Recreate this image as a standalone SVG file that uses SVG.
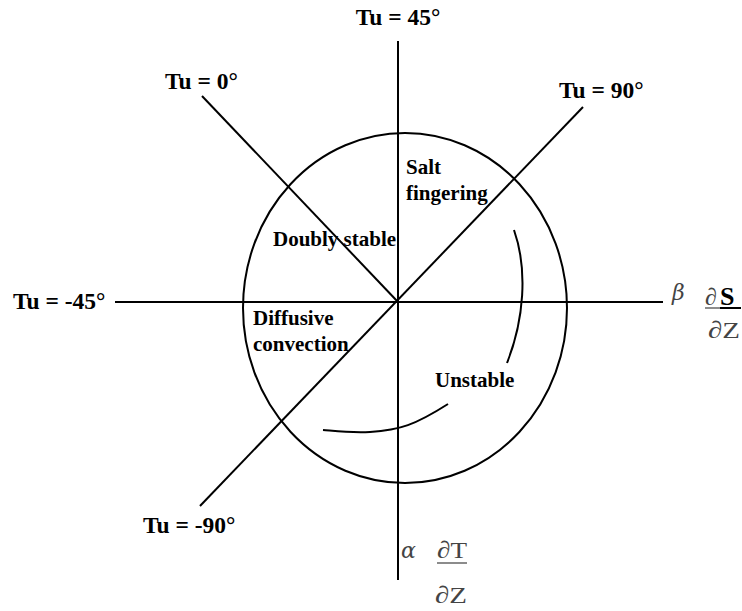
<svg xmlns="http://www.w3.org/2000/svg" width="742" height="611" viewBox="0 0 742 611">
<style>
.ln{stroke:#000;stroke-width:2;fill:none}
.tu{font-family:"Liberation Serif",serif;font-weight:bold;font-size:23.5px;fill:#000}
.rg{font-family:"Liberation Serif",serif;font-weight:bold;font-size:21px;fill:#000}
.mt{font-family:"Liberation Serif",serif;font-size:24px;fill:#444}
.gr{font-family:"DejaVu Serif",serif;font-style:italic;font-size:22px;fill:#444}
</style>
<rect width="742" height="611" fill="#fff"/>
<g id="connectors">
<line class="ln" x1="398" y1="41" x2="398" y2="580"/>
<line class="ln" x1="115" y1="302" x2="663" y2="302"/>
<line class="ln" x1="202" y1="96" x2="398" y2="302"/>
<line class="ln" x1="583" y1="107" x2="200" y2="506"/>
<path class="ln" d="M514,230 C528,270 524,320 507,363"/>
<path class="ln" d="M448,404 C415,425 400,430 370,432 C350,433 335,431 323,430"/>
</g>
<g id="circle"><ellipse class="ln" cx="405" cy="308" rx="162" ry="175"/></g>
<g id="tu45"><text class="tu" x="398" y="25" text-anchor="middle">Tu = 45°</text></g>
<g id="tu0"><text class="tu" x="165" y="89">Tu = 0°</text></g>
<g id="tu90"><text class="tu" x="559" y="98">Tu = 90°</text></g>
<g id="tum45"><text class="tu" x="13" y="309">Tu = -45°</text></g>
<g id="tum90"><text class="tu" x="143" y="533">Tu = -90°</text></g>
<g id="salt"><text class="rg" x="406" y="174">Salt</text><text class="rg" x="406" y="200">fingering</text></g>
<g id="doubly"><text class="rg" x="273" y="246">Doubly stable</text></g>
<g id="diffusive"><text class="rg" x="253" y="325">Diffusive</text><text class="rg" x="253" y="351">convection</text></g>
<g id="unstable"><text class="rg" x="435" y="387">Unstable</text></g>
<g id="dsdz">
<text class="gr" x="672" y="300">β</text>
<text class="mt" x="705" y="305">∂</text>
<text x="720" y="305" font-family="Liberation Serif,serif" font-weight="bold" font-size="26" fill="#000">S</text>
<line x1="705" y1="308" x2="720" y2="308" stroke="#666" stroke-width="1.5"/>
<line x1="720" y1="308" x2="741" y2="308" stroke="#000" stroke-width="2"/>
<text class="mt" x="708" y="338" textLength="32" lengthAdjust="spacingAndGlyphs">∂Z</text>
</g>
<g id="dtdz">
<text class="gr" x="401" y="558">α</text>
<text class="mt" x="437" y="558" textLength="30" lengthAdjust="spacingAndGlyphs">∂T</text>
<line x1="437" y1="563" x2="467" y2="563" stroke="#666" stroke-width="1.5"/>
<text class="mt" x="435" y="603" textLength="32" lengthAdjust="spacingAndGlyphs">∂Z</text>
</g>
</svg>
